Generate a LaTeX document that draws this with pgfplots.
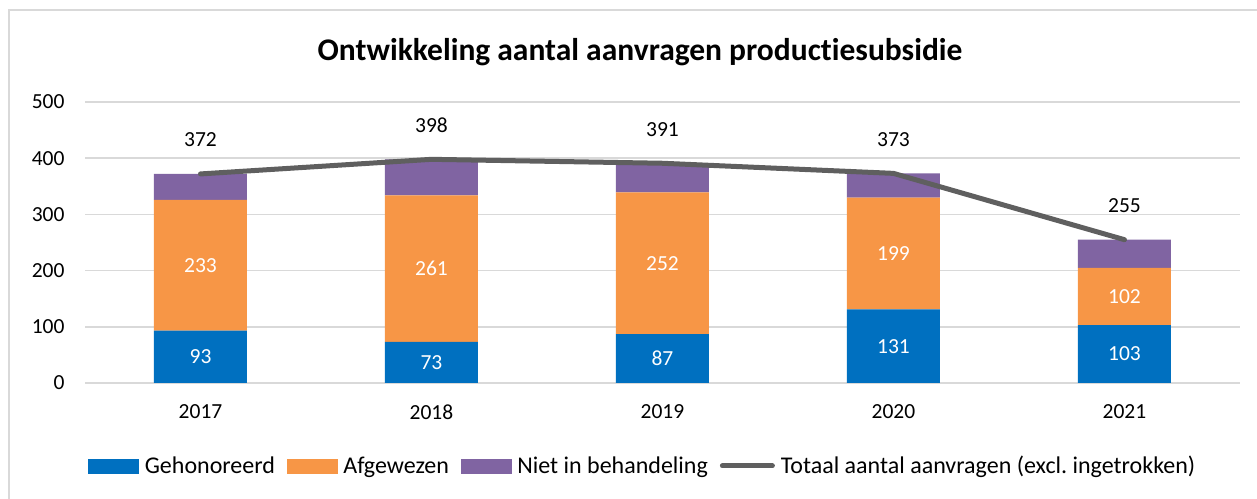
\documentclass[border=0pt]{standalone}
\usepackage{fontspec}
\setmainfont[Ligatures=NoCommon]{Carlito}
\usepackage{pgfplots}
\usepackage{pgfplotstable}
\pgfplotsset{compat=1.18}
\definecolor{gehon}{HTML}{0070C0}
\definecolor{afgew}{HTML}{F79646}
\definecolor{niet}{HTML}{8064A2}
\definecolor{totaal}{HTML}{5F5F5F}
\definecolor{gridc}{HTML}{D9D9D9}
\frenchspacing

\pgfplotstableread{
x geh afg niet totaal
0 93 233 46 372
1 73 261 64 398
2 87 252 52 391
3 131 199 43 373
4 103 102 50 255
}\datatable

\newcommand{\lblfont}{\fontsize{21.5bp}{25bp}\selectfont}
\newcommand{\legfont}{\fontsize{24bp}{28bp}\selectfont}

\pgfplotsset{
  base/.style={
    at={(85bp,116bp)}, anchor=south west,
    scale only axis, width=1155bp, height=281bp,
    xmin=-0.5, xmax=4.5, ymin=0, ymax=500,
    /pgf/number format/assume math mode=true,
  },
}

\begin{document}
\begin{tikzpicture}
\useasboundingbox (0,0) rectangle (1257bp,499bp);
\draw[gridc, line width=2bp] (9bp,0) -- (9bp,489bp) -- (1257bp,489bp);

% stacked bars
\begin{axis}[
    base,
    ybar stacked,
    bar width=93bp,
    axis line style={draw=none},
    major tick length=0pt,
    ymajorgrids,
    grid style={gridc, line width=1.5bp},
    ytick={0,100,...,500},
    xtick={0,...,4},
    xticklabels={2017,2018,2019,2020,2021},
    tick label style={font=\lblfont},
    yticklabel style={xshift=-17bp},
    xticklabel style={yshift=-18bp},
]
\addplot[fill=gehon, draw=none] table[x=x, y=geh] {\datatable};
\addplot[fill=afgew, draw=none] table[x=x, y=afg] {\datatable};
\addplot[fill=niet, draw=none] table[x=x, y=niet] {\datatable};
\end{axis}

% line, value labels, legend
\begin{axis}[
    base,
    hide axis,
    legend columns=-1,
    legend style={draw=none, fill=none, font=\legfont,
      at={(0.483,-0.295)}, anchor=center,
      /tikz/every odd column/.append style={column sep=4bp},
      /tikz/every even column/.append style={column sep=10bp}},
]
\addlegendimage{legend image code/.code={\fill[gehon] (0bp,-7bp) rectangle (50bp,7bp);}}
\addlegendentry{Gehonoreerd}
\addlegendimage{legend image code/.code={\fill[afgew] (0bp,-7bp) rectangle (50bp,7bp);}}
\addlegendentry{Afgewezen}
\addlegendimage{legend image code/.code={\fill[niet] (0bp,-7bp) rectangle (50bp,7bp);}}
\addlegendentry{Niet in behandeling}

\addplot[totaal, line width=5bp, mark=none, line cap=round, line join=round,
  legend image code/.code={\draw[totaal, line width=5bp, line cap=round] (0bp,0bp) -- (50bp,0bp);},
  nodes near coords,
  nodes near coords style={text=black, anchor=center, yshift=34bp, font=\lblfont},
] table[x=x, y=totaal] {\datatable};
\addlegendentry{Totaal aantal aanvragen (excl. ingetrokken)}

\addplot[forget plot, only marks, mark=none, point meta=explicit,
  nodes near coords,
  nodes near coords style={text=white, anchor=center, font=\lblfont},
] table[x=x, y expr=\thisrow{geh}/2, meta=geh] {\datatable};
\addplot[forget plot, only marks, mark=none, point meta=explicit,
  nodes near coords,
  nodes near coords style={text=white, anchor=center, font=\lblfont},
] table[x=x, y expr=\thisrow{geh}+\thisrow{afg}/2, meta=afg] {\datatable};
\end{axis}

\node[font=\bfseries\fontsize{31.5bp}{36bp}\selectfont] at (640bp,447bp)
  {Ontwikkeling aantal aanvragen productiesubsidie};
\end{tikzpicture}
\end{document}
